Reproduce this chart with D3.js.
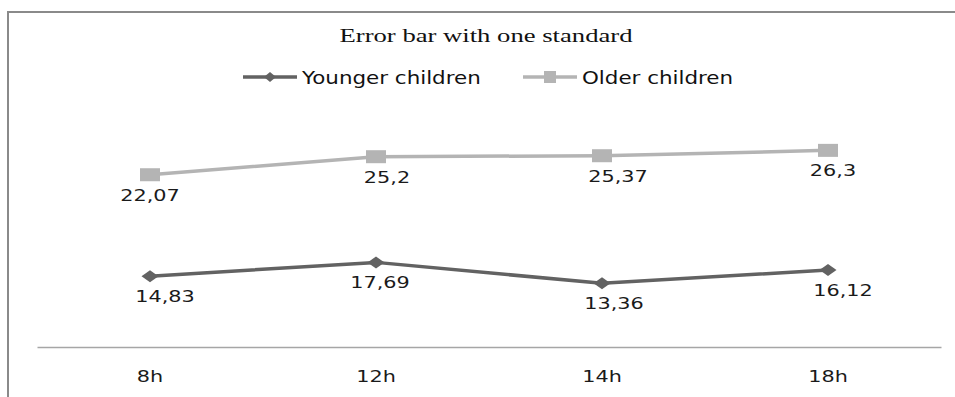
<!DOCTYPE html>
<html>
<head>
<meta charset="utf-8">
<script src="https://cdn.jsdelivr.net/npm/d3@7"></script>
<style>
  html, body { margin: 0; padding: 0; background: #fff; }
  svg { display: block; }
</style>
</head>
<body>
<script>
// ---- data ----
const categories = ["8h", "12h", "14h", "18h"];
const youngerChildren = [14.83, 17.69, 13.36, 16.12];
const olderChildren = [22.07, 25.2, 25.37, 26.3];
const seriesNames = ["Younger children", "Older children"];
const chartTitle = "Error bar with one standard";

// ---- layout ----
const W = 955, H = 397;
const sansFont = "'DejaVu Sans', Verdana, sans-serif";
const serifFont = "'Liberation Serif', 'Times New Roman', serif";
const textStretch = 1.3;   // wide lettering used for value and category labels

const svg = d3.select("body").append("svg")
  .attr("width", W).attr("height", H);

// outer chart frame (runs past the right and bottom edges)
svg.append("rect")
  .attr("x", 8).attr("y", 12)
  .attr("width", W).attr("height", H)
  .attr("fill", "none")
  .attr("stroke", "#8a8a8a")
  .attr("stroke-width", 2);

// scales: each series sits on its own (hidden) value axis
const x = d3.scaleBand().domain(categories).range([37, 941]).padding(0);
const yPrimary = d3.scaleLinear().domain([0, 50]).range([348, 106]);
const ySecondary = d3.scaleLinear().domain([-8, 34]).range([348, 106]);
const cx = c => x(c) + x.bandwidth() / 2;

const fmt = v => String(v).replace(".", ",");

// category axis
const axis = svg.append("g")
  .attr("transform", "translate(0,347)")
  .call(d3.axisBottom(x).tickSize(0).tickPadding(24));
axis.select(".domain").attr("stroke", "#a6a6a6").attr("stroke-width", 1.5);
axis.selectAll(".tick text")
  .attr("fill", "#1a1a1a")
  .style("font-family", sansFont)
  .style("font-size", "16px")
  .attr("transform", `scale(${textStretch},1)`);

// series definitions
const series = [
  { name: seriesNames[0], values: youngerChildren, y: yPrimary,
    color: "#626262", marker: "diamond", labelDx: [15, 4, 12, 15] },
  { name: seriesNames[1], values: olderChildren, y: ySecondary,
    color: "#b4b4b4", marker: "square", labelDx: [0, 11, 16, 5] }
];

function drawMarker(g, type, color, px, py, w, h) {
  if (type === "diamond") {
    g.append("path")
      .attr("d", `M${px},${py - h / 2}L${px + w / 2},${py}L${px},${py + h / 2}L${px - w / 2},${py}Z`)
      .attr("fill", color);
  } else {
    g.append("rect")
      .attr("x", px - w / 2).attr("y", py - h / 2)
      .attr("width", w).attr("height", h)
      .attr("fill", color);
  }
}

series.forEach(s => {
  const g = svg.append("g");
  const pts = categories.map((c, i) => [cx(c), s.y(s.values[i])]);
  g.append("path")
    .attr("d", d3.line()(pts))
    .attr("fill", "none")
    .attr("stroke", s.color)
    .attr("stroke-width", 3.5)
    .attr("stroke-linejoin", "round");
  pts.forEach(([px, py]) => {
    if (s.marker === "diamond") drawMarker(g, "diamond", s.color, px, py, 17, 12);
    else drawMarker(g, "square", s.color, px, py, 20, 13);
  });
  // value labels below each point
  pts.forEach(([px, py], i) => {
    g.append("text")
      .attr("transform", `translate(${px + s.labelDx[i]},${py + 26}) scale(${textStretch},1)`)
      .attr("text-anchor", "middle")
      .attr("fill", "#1a1a1a")
      .style("font-family", sansFont)
      .style("font-size", "16px")
      .text(fmt(s.values[i]));
  });
});

// title
svg.append("text")
  .attr("x", 486).attr("y", 42)
  .attr("text-anchor", "middle")
  .attr("textLength", 293)
  .attr("lengthAdjust", "spacingAndGlyphs")
  .attr("fill", "#111")
  .style("font-family", serifFont)
  .style("font-size", "18px")
  .text(chartTitle);

// legend
const legendItems = [
  { s: series[0], x0: 243, w: 12, h: 10 },
  { s: series[1], x0: 523, w: 12, h: 12 }
];
legendItems.forEach(item => {
  const g = svg.append("g");
  const ly = 77;
  g.append("line")
    .attr("x1", item.x0).attr("x2", item.x0 + 54)
    .attr("y1", ly).attr("y2", ly)
    .attr("stroke", item.s.color).attr("stroke-width", 3.5);
  drawMarker(g, item.s.marker, item.s.color, item.x0 + 27, ly, item.w, item.h);
  g.append("text")
    .attr("transform", `translate(${item.x0 + 59},84) scale(1.225,1)`)
    .attr("fill", "#111")
    .style("font-family", sansFont)
    .style("font-size", "17.5px")
    .text(item.s.name);
});
</script>
</body>
</html>
